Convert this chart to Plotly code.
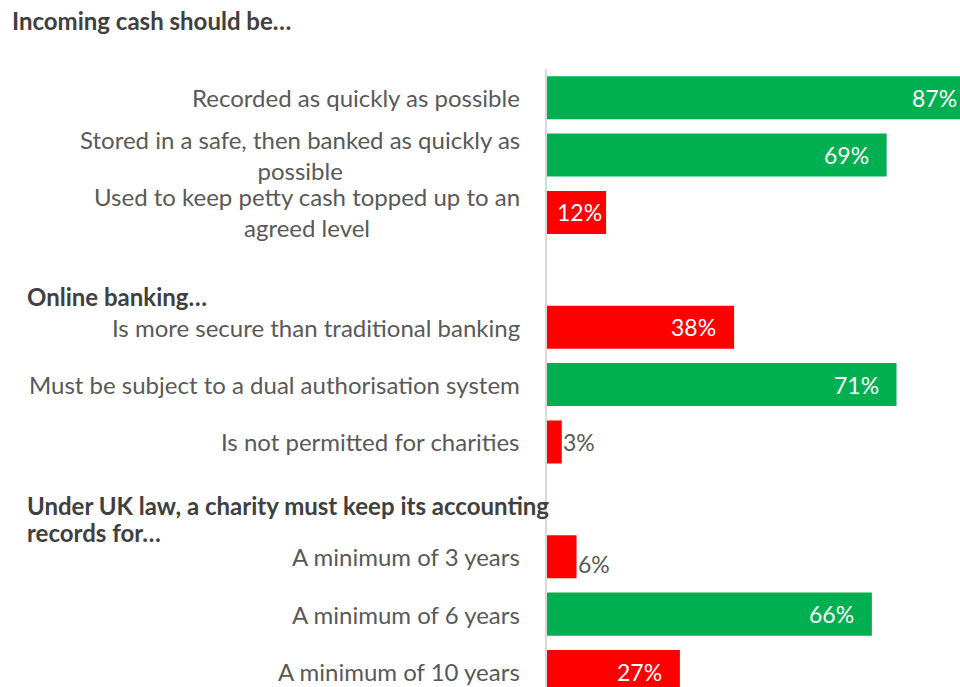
import plotly.graph_objects as go

# Survey results: share of respondents agreeing with each statement
groups = [
    ["Incoming cash should be…"],
    ["Online banking…"],
    ["Under UK law, a charity must keep its accounting", "records for…"],
]
statements = [
    "Recorded as quickly as possible",
    "Stored in a safe, then banked as quickly as<br>possible",
    "Used to keep petty cash topped up to an<br>agreed level",
    "Is more secure than traditional banking",
    "Must be subject to a dual authorisation system",
    "Is not permitted for charities",
    "A minimum of 3 years",
    "A minimum of 6 years",
    "A minimum of 10 years",
]
group_of = [0, 0, 0, 1, 1, 1, 2, 2, 2]
percent = [87, 69, 12, 38, 71, 3, 6, 66, 27]
correct = [True, True, False, False, True, False, False, True, False]

GREEN = "#00B050"
RED = "#FF0000"
LABEL_GREY = "#595959"
HEAD_GREY = "#404040"
FONT = "Lato"

W, H = 960, 687
M_L, M_T = 547, 69
plot_w = W - M_L
plot_h = H - M_T
x_max = 83.9
y_top, y_bottom = -0.5, 10.27
px_per_unit = plot_w / x_max
px_per_row = plot_h / (y_bottom - y_top)

# one empty row separates consecutive groups
slots = [i + g for i, g in enumerate(group_of)]

fig = go.Figure(
    go.Bar(
        x=percent,
        y=slots,
        orientation="h",
        width=0.75,
        marker=dict(color=[GREEN if c else RED for c in correct], line_width=0),
        hoverinfo="skip",
    )
)

annotations = []

# statement labels, right aligned against the axis
for s, text in zip(slots, statements):
    annotations.append(dict(
        x=0, y=s, xref="x", yref="y", text=text, showarrow=False,
        xanchor="right", yanchor="middle", align="center", xshift=-25,
        font=dict(family=FONT, size=24, color=LABEL_GREY),
    ))

# value labels: inside the bar end, or just past it for short bars
for s, v in zip(slots, percent):
    xa = min(v, x_max)
    overflow = (v - xa) * px_per_unit
    if v >= 10:
        pad = 2 if v < 15 else 16
        annotations.append(dict(
            x=xa, y=s, xref="x", yref="y", text=f"{v}%", showarrow=False,
            xanchor="right", yanchor="middle", xshift=-pad + overflow,
            font=dict(family=FONT, size=23, color="white"),
        ))
    else:
        annotations.append(dict(
            x=v, y=s, xref="x", yref="y", text=f"{v}%", showarrow=False,
            xanchor="left", yanchor="middle", xshift=-1,
            yshift=-7 if v > 4 else 0,
            font=dict(family=FONT, size=23, color=LABEL_GREY),
        ))

# group headings for the second and later groups sit in the gap rows
head_x = -(M_L - 25) / plot_w
for g in range(1, len(groups)):
    first = next(s for s, gg in zip(slots, group_of) if gg == g)
    gap = first - 1
    offset = 0.47 if len(groups[g]) == 1 else 0.1
    for k, line in enumerate(groups[g]):
        annotations.append(dict(
            x=head_x, y=gap + offset, xref="paper", yref="y",
            text=f"<b>{line}</b>", showarrow=False,
            xanchor="left", yanchor="middle", align="left",
            yshift=-27 * k,
            font=dict(family=FONT, size=24, color=HEAD_GREY),
        ))

fig.update_layout(
    width=W, height=H,
    margin=dict(l=M_L, r=0, t=M_T, b=0),
    paper_bgcolor="white", plot_bgcolor="white",
    showlegend=False,
    title=dict(
        text=f"<b>{groups[0][0]}</b>",
        x=12 / W, xanchor="left", xref="container",
        y=1 - 22 / H, yanchor="middle", yref="container",
        font=dict(family=FONT, size=24, color=HEAD_GREY),
    ),
    xaxis=dict(range=[0, x_max], visible=False, fixedrange=True),
    yaxis=dict(
        range=[y_bottom, y_top], showticklabels=False, showgrid=False,
        zeroline=False, showline=True, linecolor="#D9D9D9", linewidth=1.5,
        ticks="", fixedrange=True,
    ),
    annotations=annotations,
)

fig.write_html("out.html")
